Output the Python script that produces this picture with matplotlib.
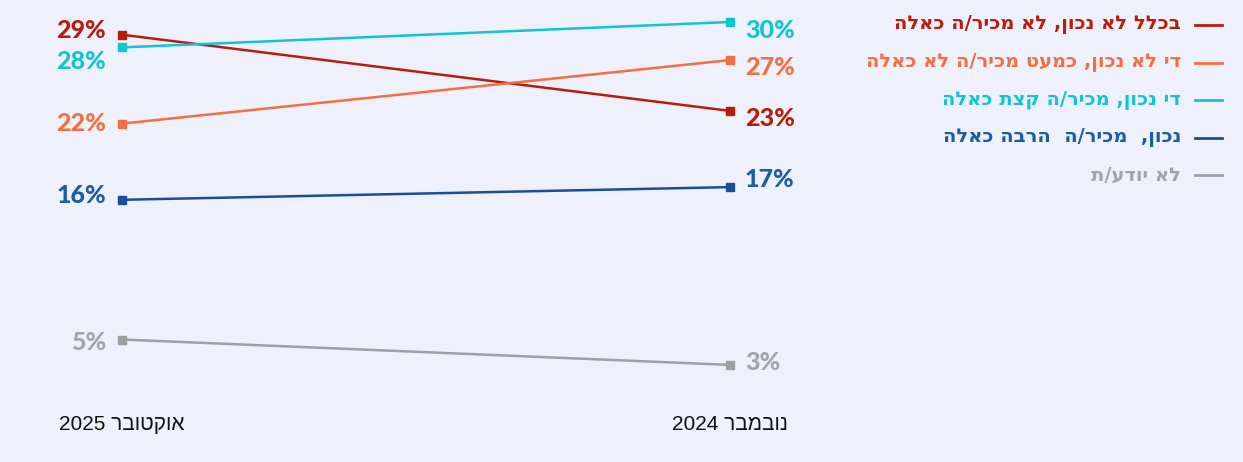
import re
import matplotlib.pyplot as plt
from matplotlib.lines import Line2D

# data
periods = ["אוקטובר 2025", "נובמבר 2024"]
series = [
    "בכלל לא נכון, לא מכיר/ה כאלה",
    "די לא נכון, כמעט מכיר/ה לא כאלה",
    "די נכון, מכיר/ה קצת כאלה",
    "נכון,  מכיר/ה  הרבה כאלה",
    "לא יודע/ת",
]
oct_2025 = [29, 22, 28, 16, 5]
nov_2024 = [23, 27, 30, 17, 3]

line_colors = ["#B81D0A", "#F36F3F", "#12C3D8", "#1F4C99", "#9E9FA3"]
text_colors = ["#B81D0A", "#F36F3F", "#12C3D8", "#1A5CA6", "#A3A4A8"]

# label nudges in pixels so the numbers do not collide
left_dy = [4, 0, -14, 4, -3]
right_dy = [-8, -7, -8, 8, 2]


def heb(s):
    # matplotlib has no bidi: reverse for visual order, keep digit runs
    r = s[::-1]
    return re.sub(r"\d+", lambda m: m.group(0)[::-1], r)


W, H = 1243, 462
bg = "#EEF1FB"
fig = plt.figure(figsize=(W / 100, H / 100), dpi=100, facecolor=bg)

# x=0 at px 122, x=1 at px 730; y=0 at px 403, 12.7 px per point
y_top = 30
px_per = 12.7
ax = fig.add_axes([122 / W, 1 - 403 / H, 608 / W, (y_top * px_per) / H])
ax.set_facecolor(bg)
ax.set_xlim(0, 1)
ax.set_ylim(0, y_top)
ax.axis("off")

num_font = ["Lato", "DejaVu Sans"]
for i in range(len(series)):
    ax.plot([0, 1], [oct_2025[i], nov_2024[i]], color=line_colors[i], lw=1.8,
            marker="s", ms=5.5, clip_on=False, solid_capstyle="butt")
    ax.annotate(f"{oct_2025[i]}%", (0, oct_2025[i]), xytext=(-16, left_dy[i]),
                textcoords="offset pixels", ha="right", va="center",
                fontsize=18, fontweight="black", color=text_colors[i],
                family=num_font, annotation_clip=False)
    ax.annotate(f"{nov_2024[i]}%", (1, nov_2024[i]), xytext=(15, right_dy[i]),
                textcoords="offset pixels", ha="left", va="center",
                fontsize=18, fontweight="black", color=text_colors[i],
                family=num_font, annotation_clip=False)

# period labels under the two ends
for x, p in zip([0, 1], periods):
    ax.annotate(heb(p), (x, 0), xytext=(0, -21), textcoords="offset pixels",
                ha="center", va="center", fontsize=15, color="#111111",
                family=["Liberation Sans", "DejaVu Sans"], annotation_clip=False)

# legend on the right, text right-aligned next to a short line
heb_font = ["DejaVu Sans"]
for i, name in enumerate(series):
    ypx = 25 + i * 37.5
    fy = 1 - ypx / H
    fig.text(1181 / W, fy, heb(name), ha="right", va="center", fontsize=14,
             fontweight="bold", color=text_colors[i], family=heb_font)
    fig.add_artist(Line2D([1195 / W, 1222 / W], [fy, fy], color=line_colors[i],
                          lw=2, transform=fig.transFigure))

fig.savefig("out.png", dpi=100, facecolor=bg)
